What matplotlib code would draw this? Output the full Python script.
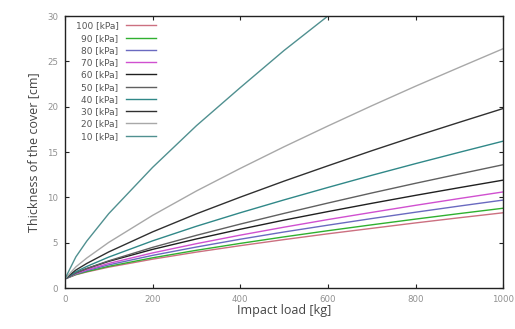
import matplotlib
matplotlib.use("Agg")
import matplotlib.pyplot as plt

# impact load [kg]
load = [0, 25, 50, 100, 200, 300, 400, 500, 600, 700, 800, 900, 1000]
load_10 = [0, 25, 50, 100, 200, 300, 400, 500, 600, 700]

# cover thickness [cm] for each pressure
t_10 = [1, 3.43, 5.18, 8.2, 13.3, 17.9, 22.1, 26.2, 30.0, 33.7]
t_20 = [1, 2.33, 3.31, 5.03, 8.01, 10.70, 13.19, 15.58, 17.87, 20.10, 22.26, 24.34, 26.4]
t_30 = [1, 1.98, 2.71, 3.98, 6.19, 8.18, 10.02, 11.79, 13.48, 15.14, 16.74, 18.28, 19.8]
t_40 = [1, 1.79, 2.38, 3.41, 5.20, 6.81, 8.30, 9.72, 11.09, 12.43, 13.72, 14.97, 16.2]
t_50 = [1, 1.66, 2.15, 3.00, 4.48, 5.81, 7.05, 8.23, 9.37, 10.48, 11.55, 12.58, 13.6]
t_60 = [1, 1.69, 2.15, 2.94, 4.26, 5.41, 6.48, 7.49, 8.43, 9.34, 10.22, 11.07, 11.9]
t_70 = [1, 1.60, 2.01, 2.71, 3.87, 4.89, 5.83, 6.71, 7.55, 8.34, 9.12, 9.87, 10.6]
t_80 = [1, 1.55, 1.92, 2.55, 3.60, 4.52, 5.38, 6.18, 6.93, 7.66, 8.36, 9.04, 9.7]
t_90 = [1, 1.49, 1.82, 2.39, 3.33, 4.16, 4.92, 5.64, 6.32, 6.97, 7.60, 8.21, 8.8]
t_100 = [1, 1.46, 1.77, 2.30, 3.18, 3.96, 4.67, 5.34, 5.98, 6.58, 7.18, 7.75, 8.3]

labels = ["100 [kPa]", "90 [kPa]", "80 [kPa]", "70 [kPa]", "60 [kPa]",
          "50 [kPa]", "40 [kPa]", "30 [kPa]", "20 [kPa]", "10 [kPa]"]
series = [t_100, t_90, t_80, t_70, t_60, t_50, t_40, t_30, t_20, t_10]
colors = ["#cc7080", "#30b030", "#6a6ac0", "#d050d0", "#202020",
          "#606060", "#308888", "#303030", "#a8a8a8", "#509090"]

fig = plt.figure(figsize=(5.15, 3.29), dpi=100)
ax = fig.add_axes([0.126, 0.1246, 0.851, 0.8266])

for lab, y, c in zip(labels, series, colors):
    x = load_10 if lab.startswith("10 ") else load
    ax.plot(x, y, color=c, lw=1.0, label=lab)

ax.set_xlim(0, 1000)
ax.set_ylim(0, 30)
ax.set_xticks([0, 200, 400, 600, 800, 1000])
ax.set_yticks([0, 5, 10, 15, 20, 25, 30])
ax.tick_params(direction="in", top=True, right=True, length=3, width=0.8,
               labelsize=6.2, colors="#222222", pad=5)
for t in ax.get_xticklabels() + ax.get_yticklabels():
    t.set_color("#909090")
for s in ax.spines.values():
    s.set_linewidth(1.0)
    s.set_color("#222222")

ax.set_xlabel("Impact load [kg]", fontsize=9, color="#444444",
              family="Open Sans", labelpad=0)
ax.set_ylabel("Thickness of the cover [cm]", fontsize=9, color="#444444",
              family="Open Sans", labelpad=5)

ax.legend(loc="upper left", frameon=False, markerfirst=False, fontsize=6.5,
          handlelength=3.4, labelspacing=0.36, borderaxespad=0.2,
          handletextpad=0.8, bbox_to_anchor=(0.012, 1.0),
          labelcolor="#555555")

fig.savefig("out.png", dpi=100)
